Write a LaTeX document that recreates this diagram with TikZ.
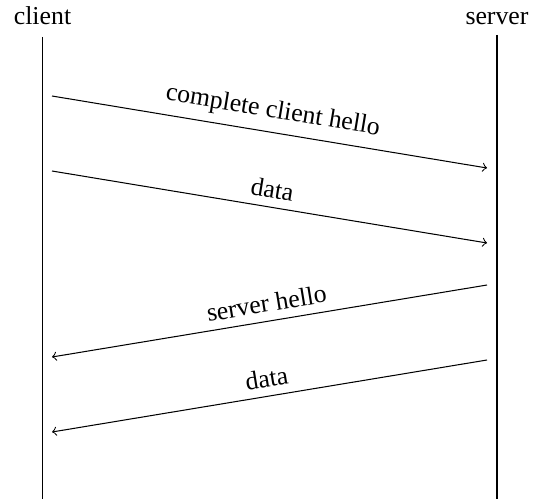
\documentclass[tikz,border=0pt]{standalone}
\usepackage{fontspec}
\setmainfont{Liberation Serif}
\usepackage{tikz}

\begin{document}
\begin{tikzpicture}[x=0.3876pt, y=-0.3876pt]
\useasboundingbox (0,0) rectangle (535,499);
\tikzset{msg/.style={->}}
\node[anchor=base] (Client) at (42.5,25) {client};
\node[anchor=base] (Server) at (497,25) {server};
\coordinate (ClientEnd) at (42.5,499);
\coordinate (ServerEnd) at (497,499);
\draw (42.5,37) coordinate (ClientTop) -- (ClientEnd);
\draw (497,35) coordinate (ServerTop) -- (ServerEnd);
% client to server
\coordinate (C1) at (52,96);  \coordinate (S1) at (487,168);
\coordinate (C2) at (52,171); \coordinate (S2) at (487,243);
\draw[msg] (C1) -- (S1) node[midway, above, sloped]{complete client hello};
\draw[msg] (C2) -- (S2) node[midway, above, sloped]{data};
% server to client
\coordinate (S3) at (487,285); \coordinate (C3) at (52,357);
\coordinate (S4) at (487,360); \coordinate (C4) at (52,432);
\draw[msg] (S3) -- (C3) node[midway, above, sloped]{server hello};
\draw[msg] (S4) -- (C4) node[midway, above, sloped]{data};
\end{tikzpicture}
\end{document}
